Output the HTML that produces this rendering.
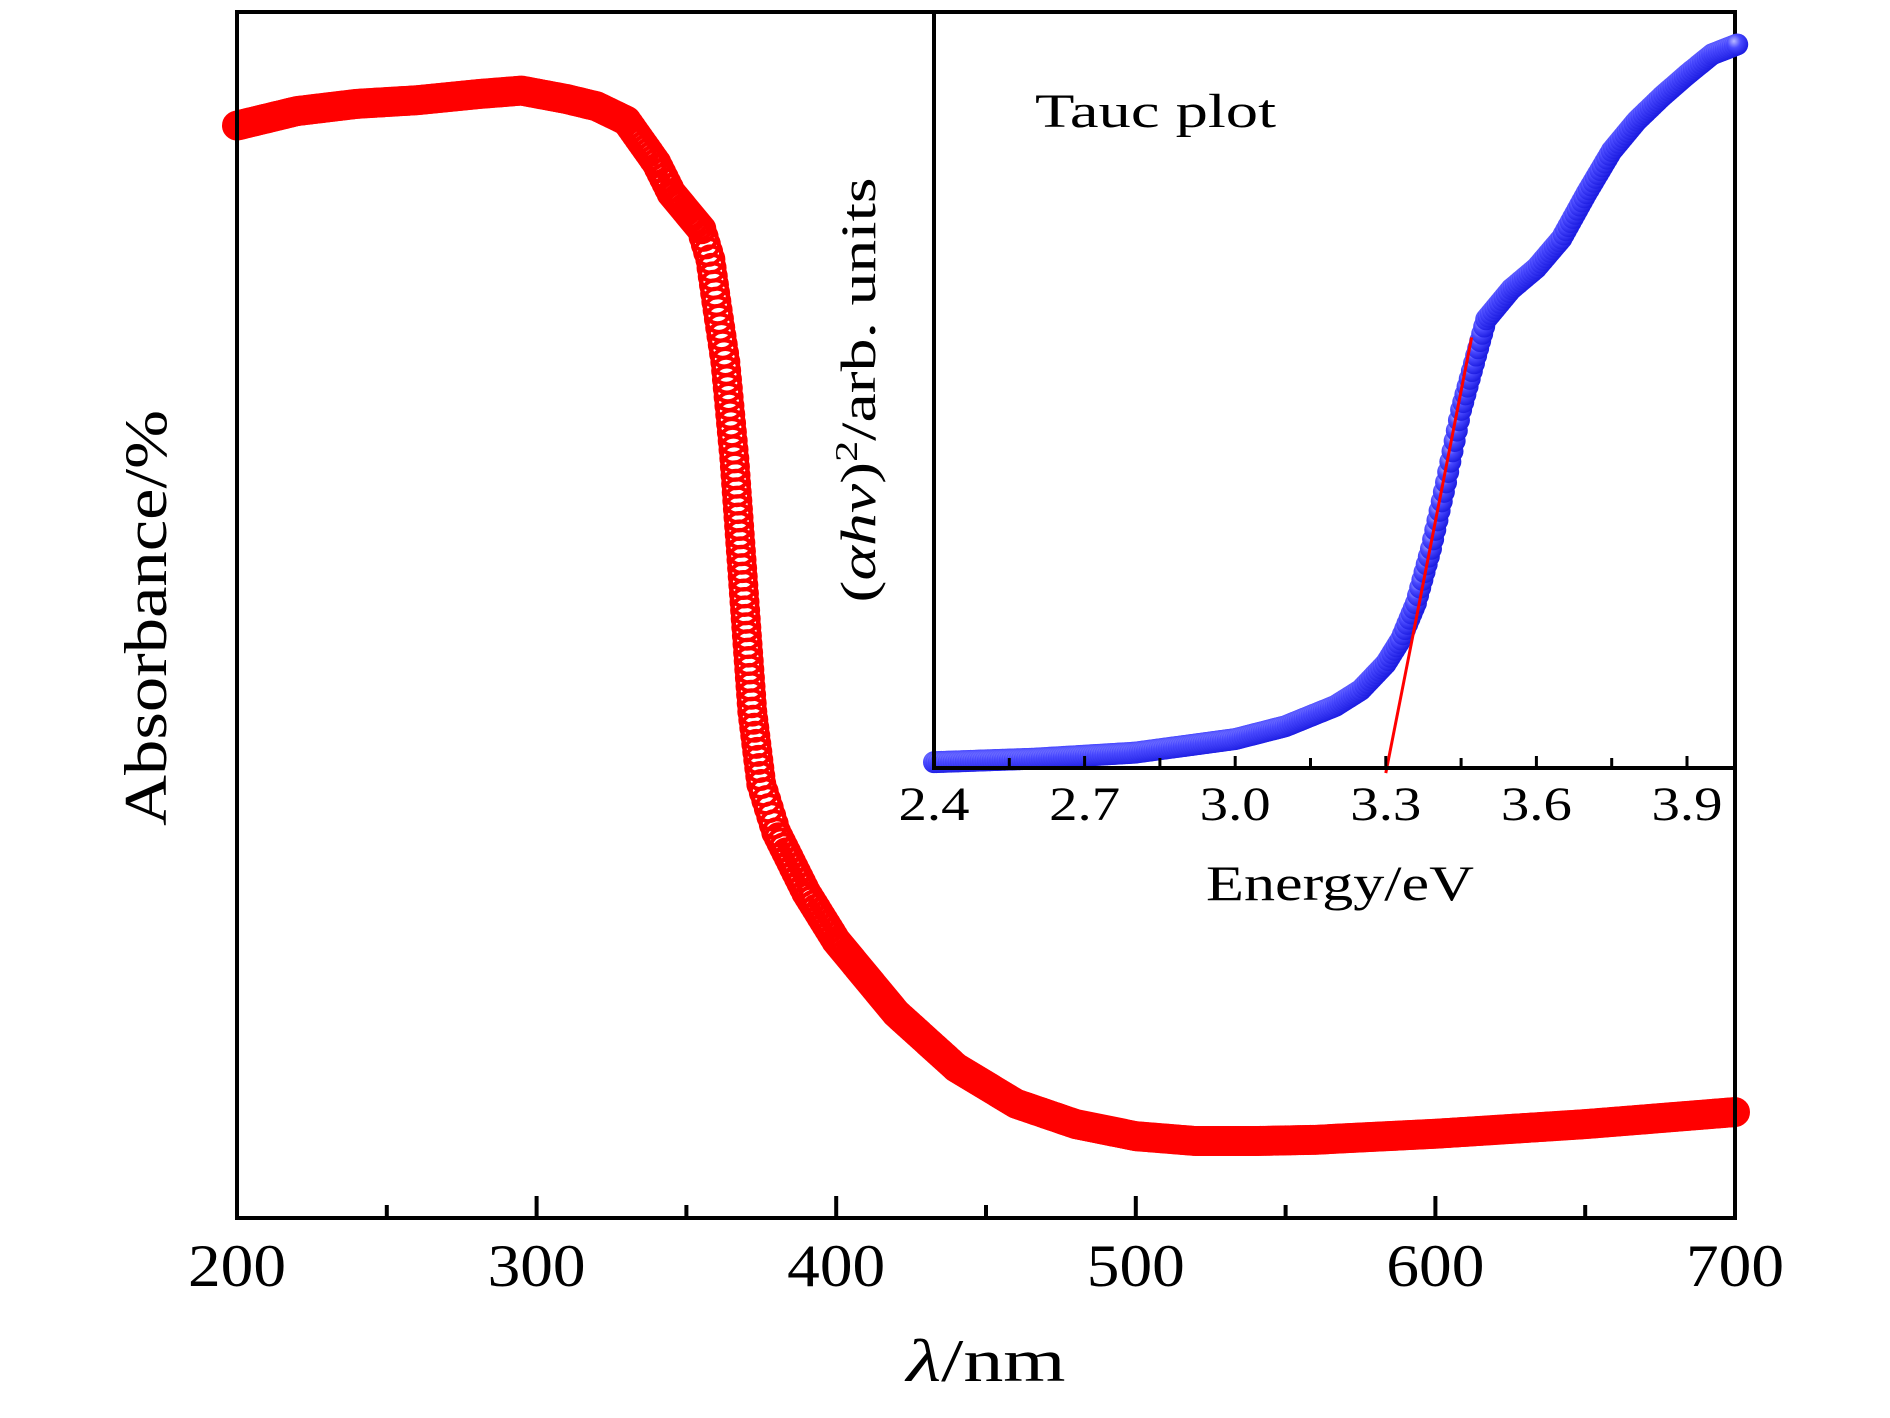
<!DOCTYPE html>
<html><head><meta charset="utf-8">
<style>
html,body{margin:0;padding:0;background:#fff;}
svg{display:block;}
text{font-family:"Liberation Serif",serif;fill:#000;}
</style></head>
<body>
<svg id="chart" width="1890" height="1418" viewBox="0 0 1890 1418" xmlns="http://www.w3.org/2000/svg">
<defs>
<radialGradient id="ball" cx="0.35" cy="0.35" r="0.7">
<stop offset="0" stop-color="#b8b8ff"/>
<stop offset="0.45" stop-color="#4a4aff"/>
<stop offset="1" stop-color="#1a1ae0"/>
</radialGradient>
</defs>
<g id="main-series"></g>
<rect x="237" y="12" width="1498" height="1206" fill="none" stroke="#000" stroke-width="4"/>
<g id="main-ticks"></g>
<text x="986" y="1381" font-size="60" text-anchor="middle" textLength="159" lengthAdjust="spacingAndGlyphs"><tspan font-style="italic">λ</tspan>/nm</text>
<text transform="translate(166,618) rotate(-90)" font-size="60" text-anchor="middle" textLength="416" lengthAdjust="spacingAndGlyphs">Absorbance/%</text>
<g id="inset">
<g id="inset-series"></g>
<line x1="934" y1="12" x2="934" y2="768" stroke="#000" stroke-width="4"/>
<line x1="932" y1="768" x2="1737" y2="768" stroke="#000" stroke-width="4"/>
<g id="inset-ticks"></g>
<text x="1035" y="127" font-size="48" textLength="241" lengthAdjust="spacingAndGlyphs">Tauc plot</text>
<text x="1340" y="900" font-size="50" text-anchor="middle" textLength="268" lengthAdjust="spacingAndGlyphs">Energy/eV</text>
<text transform="translate(875,390) rotate(-90)" font-size="50" text-anchor="middle" textLength="425" lengthAdjust="spacingAndGlyphs">(<tspan font-style="italic">αhν</tspan>)<tspan font-size="32" dy="-18">2</tspan><tspan dy="18">/arb. units</tspan></text>
</g>
</svg>
<script>
const NS='http://www.w3.org/2000/svg';
// main chart data
const wavelengths=[200,210,220,240,260,280,295,310,320,330,340,345,350,355,358,360,363,366,368,370,372,375,380,390,400,420,440,460,480,500,520,540,560,600,650,700];
const absorbance=[90.5,91.1,91.7,92.3,92.6,93.1,93.4,92.7,92.1,90.9,87.4,84.9,83.4,81.9,79.4,75.9,70.9,62.9,55.9,48.9,41.9,35.9,31.9,26.9,22.9,16.9,12.4,9.4,7.7,6.7,6.3,6.3,6.4,6.9,7.7,8.7];
const mainTicks=[200,300,400,500,600,700];
const mainMinorTicks=[250,350,450,550,650];
// inset data
const energies=[2.4,2.6,2.8,3.0,3.1,3.2,3.25,3.3,3.33,3.36,3.39,3.42,3.45,3.48,3.5,3.55,3.6,3.65,3.7,3.75,3.8,3.85,3.9,3.95,4.0];
const tauc=[0.64,1.1,1.9,3.7,5.4,8.1,10.2,13.7,16.9,21.7,28.9,37.7,47.3,54.5,59.3,63.3,66.1,70.0,76.0,81.6,85.6,88.8,91.7,94.4,95.7];
const fitE=[3.3,3.471];
const fitV=[-0.8,56.9];
const insetTicks=[2.4,2.7,3.0,3.3,3.6,3.9];
const insetMinorTicks=[2.55,2.85,3.15,3.45,3.75];

const xMain=w=>237+(w-200)*2.996;
const yMain=v=>1217-12.06*v;
const xIn=e=>934+(e-2.4)*502;
const yIn=v=>767-7.55*v;

function mk(tag,attrs,parent){const el=document.createElementNS(NS,tag);for(const k in attrs)el.setAttribute(k,attrs[k]);parent.appendChild(el);return el;}

// red markers
const ms=document.getElementById('main-series');
for(let i=0;i<wavelengths.length;i++){
  const x0=xMain(wavelengths[i]),y0=yMain(absorbance[i]);
  let pts=[[x0,y0]];
  if(i<wavelengths.length-1){
    const x1=xMain(wavelengths[i+1]),y1=yMain(absorbance[i+1]);
    const len=Math.hypot(x1-x0,y1-y0);
    const n=Math.max(1,Math.ceil(Math.max(Math.abs(x1-x0)/2.5,len/9)));
    pts=[];
    for(let j=0;j<n;j++){const t=j/n;pts.push([x0+(x1-x0)*t,y0+(y1-y0)*t]);}
  }
  pts.forEach(p=>{
    const c=mk('circle',{cx:p[0],cy:p[1],r:13,fill:'none',stroke:'#ff0000','stroke-width':4},ms);
    
    
  });
}
// main ticks
const mt=document.getElementById('main-ticks');
mainTicks.forEach(t=>{
  const l=mk('line',{x1:xMain(t),x2:xMain(t),y1:1218,y2:1196,stroke:'#000','stroke-width':4},mt);
  
  
  const tx=mk('text',{x:xMain(t),y:1286,'font-size':60,'text-anchor':'middle',textLength:98,lengthAdjust:'spacingAndGlyphs'},mt);
  tx.textContent=t;
  
  
});
mainMinorTicks.forEach(t=>{
  const l=mk('line',{x1:xMain(t),x2:xMain(t),y1:1218,y2:1205,stroke:'#000','stroke-width':4},mt);
  
  
});
// blue markers
const is=document.getElementById('inset-series');
for(let i=0;i<energies.length;i++){
  const x0=xIn(energies[i]),y0=yIn(tauc[i]);
  let pts=[[x0,y0]];
  if(i<energies.length-1){
    const x1=xIn(energies[i+1]),y1=yIn(tauc[i+1]);
    const len=Math.hypot(x1-x0,y1-y0);
    const n=Math.max(1,Math.ceil(Math.max(Math.abs(x1-x0)/2.5,len/12)));
    pts=[];
    for(let j=0;j<n;j++){const t=j/n;pts.push([x0+(x1-x0)*t,y0+(y1-y0)*t]);}
  }
  pts.forEach(p=>{
    const c=mk('circle',{cx:p[0],cy:p[1],r:11,fill:'url(#ball)'},is);
    
    
  });
}
const fit=mk('line',{x1:xIn(fitE[0]),y1:yIn(fitV[0]),x2:xIn(fitE[1]),y2:yIn(fitV[1]),stroke:'#ff0000','stroke-width':3},is);


// inset ticks
const it=document.getElementById('inset-ticks');
insetTicks.forEach(t=>{
  const l=mk('line',{x1:xIn(t),x2:xIn(t),y1:768,y2:756,stroke:'#000','stroke-width':3},it);
  
  
  const tx=mk('text',{x:xIn(t),y:820,'font-size':48,'text-anchor':'middle',textLength:71,lengthAdjust:'spacingAndGlyphs'},it);
  tx.textContent=t.toFixed(1);
  
  
});
insetMinorTicks.forEach(t=>{
  const l=mk('line',{x1:xIn(t),x2:xIn(t),y1:768,y2:758,stroke:'#000','stroke-width':3},it);
  
  
});
</script>
</body></html>
